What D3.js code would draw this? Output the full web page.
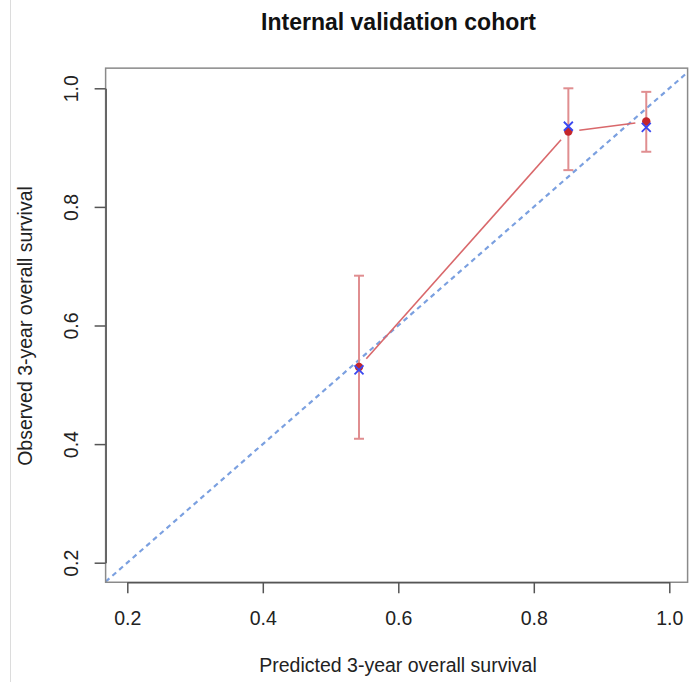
<!DOCTYPE html>
<html>
<head>
<meta charset="utf-8">
<script src="https://cdn.jsdelivr.net/npm/d3@7"></script>
<style>
  body { margin: 0; background: #fff; }
  svg { display: block; font-family: "Liberation Sans", Arial, Helvetica, sans-serif; }
</style>
</head>
<body>
<div id="wrapper"></div>
<script>
// calibration groups (predicted vs observed 3-year OS)
const predicted = [0.542, 0.851, 0.966];
const observed = [0.530, 0.927, 0.944];
const lower = [0.409, 0.862, 0.893];
const upper = [0.684, 1.0, 0.994];
const corrected = [0.525, 0.936, 0.934];   // blue x marks
const tickValues = [0.2, 0.4, 0.6, 0.8, 1.0];

const width = 691;
const height = 682;

const xScale = d3.scaleLinear().domain([0.2, 1.0]).range([127.3, 669.3]);
const yScale = d3.scaleLinear().domain([0.2, 1.0]).range([562.7, 88.3]);

// plot region limits (R style, 4% extension)
const xLim = [0.168, 1.027];
const yLim = [0.167, 1.034];

const svg = d3.select("#wrapper")
  .append("svg")
  .attr("width", width)
  .attr("height", height);

// thin grey rule on the left edge
svg.append("line")
  .attr("x1", 10.5).attr("x2", 10.5)
  .attr("y1", 0).attr("y2", height)
  .attr("stroke", "#dcdcdc")
  .attr("stroke-width", 1);

svg.append("defs").append("clipPath")
  .attr("id", "plotClip")
  .append("rect")
  .attr("x", xScale(xLim[0]))
  .attr("y", yScale(yLim[1]))
  .attr("width", xScale(xLim[1]) - xScale(xLim[0]))
  .attr("height", yScale(yLim[0]) - yScale(yLim[1]));

// diagonal reference line
svg.append("line")
  .attr("clip-path", "url(#plotClip)")
  .attr("x1", xScale(xLim[0])).attr("y1", yScale(xLim[0]))
  .attr("x2", xScale(1.04)).attr("y2", yScale(1.04))
  .attr("stroke", "#7ba0e0")
  .attr("stroke-width", 2.2)
  .attr("stroke-dasharray", "5,4");

// error bars
const bars = svg.append("g").attr("class", "errorBars");
predicted.forEach((p, i) => {
  const cx = xScale(p);
  bars.append("line")
    .attr("x1", cx).attr("x2", cx)
    .attr("y1", yScale(lower[i])).attr("y2", yScale(upper[i]))
    .attr("stroke", "#e08e90").attr("stroke-width", 2);
  [lower[i], upper[i]].forEach((v) => {
    bars.append("line")
      .attr("x1", cx - 5).attr("x2", cx + 5)
      .attr("y1", yScale(v)).attr("y2", yScale(v))
      .attr("stroke", "#e08e90").attr("stroke-width", 2);
  });
});

// connecting line with gaps around points (type = "b")
const gap = 11;
for (let i = 0; i < predicted.length - 1; i++) {
  const x1 = xScale(predicted[i]), y1 = yScale(observed[i]);
  const x2 = xScale(predicted[i + 1]), y2 = yScale(observed[i + 1]);
  const len = Math.hypot(x2 - x1, y2 - y1);
  const ux = (x2 - x1) / len, uy = (y2 - y1) / len;
  svg.append("line")
    .attr("x1", x1 + ux * gap).attr("y1", y1 + uy * gap)
    .attr("x2", x2 - ux * gap).attr("y2", y2 - uy * gap)
    .attr("stroke", "#d9686b")
    .attr("stroke-width", 1.6);
}

// observed points
svg.append("g")
  .selectAll("circle")
  .data(predicted)
  .enter()
  .append("circle")
  .attr("cx", (d) => xScale(d))
  .attr("cy", (d, i) => yScale(observed[i]))
  .attr("r", 4.2)
  .attr("fill", "#c4262c");

// blue crosses
const cross = svg.append("g");
predicted.forEach((p, i) => {
  const cx = xScale(p), cy = yScale(corrected[i]);
  const s = 4.5;
  cross.append("path")
    .attr("d", `M${cx - s},${cy - s}L${cx + s},${cy + s}M${cx - s},${cy + s}L${cx + s},${cy - s}`)
    .attr("stroke", "#3a48f0")
    .attr("stroke-width", 1.8)
    .attr("fill", "none");
});

// plot box
svg.append("rect")
  .attr("x", xScale(xLim[0]))
  .attr("y", yScale(yLim[1]))
  .attr("width", xScale(xLim[1]) - xScale(xLim[0]))
  .attr("height", yScale(yLim[0]) - yScale(yLim[1]))
  .attr("fill", "none")
  .attr("stroke", "#8a8a8a")
  .attr("stroke-width", 1.5);

// axes
const xAxis = svg.append("g")
  .attr("transform", `translate(0,${yScale(yLim[0])})`)
  .call(d3.axisBottom(xScale).tickValues(tickValues).tickSize(11).tickSizeOuter(0).tickFormat(d3.format(".1f")));
xAxis.select(".domain").attr("stroke", "#555").attr("stroke-width", 1.5);
xAxis.selectAll(".tick line").attr("stroke", "#555").attr("stroke-width", 1.5);
xAxis.selectAll(".tick text")
  .attr("y", 36)
  .attr("dy", "0.35em")
  .attr("fill", "#222")
  .style("font-size", "19.5px");

const yAxis = svg.append("g")
  .attr("transform", `translate(${xScale(xLim[0])},0)`)
  .call(d3.axisLeft(yScale).tickValues(tickValues).tickSize(11).tickSizeOuter(0).tickFormat(d3.format(".1f")));
yAxis.select(".domain").attr("stroke", "#555").attr("stroke-width", 1.5);
yAxis.selectAll(".tick line").attr("stroke", "#555").attr("stroke-width", 1.5);
yAxis.selectAll(".tick text")
  .attr("x", 0)
  .attr("dy", 0)
  .attr("transform", "translate(-35,0) rotate(-90)")
  .attr("text-anchor", "middle")
  .attr("dominant-baseline", "central")
  .attr("fill", "#222")
  .style("font-size", "19.5px");

// titles
svg.append("text")
  .attr("x", 398.5)
  .attr("y", 30)
  .attr("text-anchor", "middle")
  .style("font-size", "23px")
  .style("font-weight", "bold")
  .attr("fill", "#111")
  .text("Internal validation cohort");

svg.append("text")
  .attr("x", 398)
  .attr("y", 672)
  .attr("text-anchor", "middle")
  .style("font-size", "19.5px")
  .attr("fill", "#222")
  .text("Predicted 3-year overall survival");

svg.append("text")
  .attr("transform", "translate(32,326) rotate(-90)")
  .attr("text-anchor", "middle")
  .style("font-size", "19.5px")
  .attr("fill", "#222")
  .text("Observed 3-year overall survival");
</script>
</body>
</html>
